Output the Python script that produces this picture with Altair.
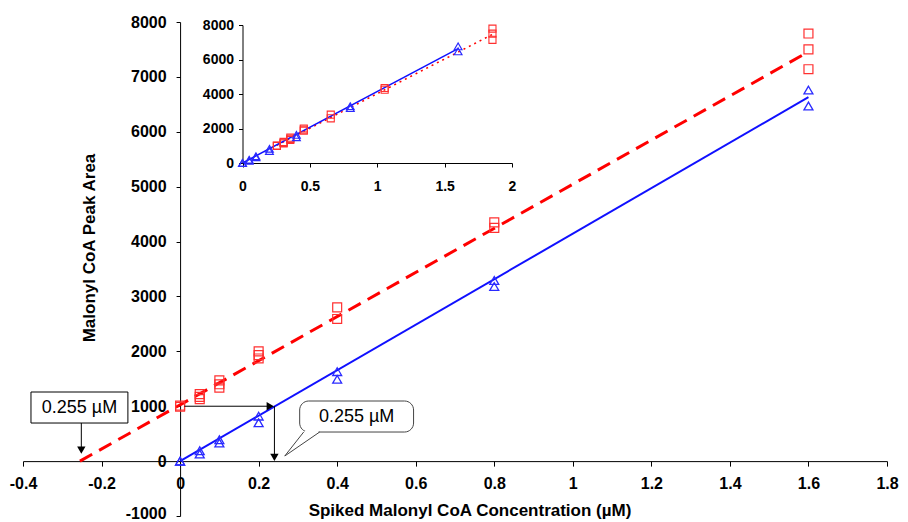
import altair as alt
import pandas as pd

# ---------------- values ----------------
spiked_conc_red = [0, 0, 0.05, 0.05, 0.05, 0.1, 0.1, 0.1, 0.2, 0.2, 0.2, 0.4, 0.4, 0.8, 0.8, 1.6, 1.6, 1.6]
peak_area_red = [990, 1010, 1130, 1170, 1220, 1340, 1400, 1470, 1870, 1930, 2000, 2590, 2800, 4250, 4350, 7140, 7500, 7790]

spiked_conc_blue = [0, 0, 0.05, 0.05, 0.1, 0.1, 0.2, 0.2, 0.4, 0.4, 0.8, 0.8, 1.6, 1.6]
peak_area_blue = [0, 0, 130, 190, 330, 390, 700, 820, 1490, 1630, 3180, 3290, 6470, 6760]

red_fit_conc = [-0.255, 1.6]
red_fit_area = [0, 7457]
blue_fit_conc = [0, 1.6]
blue_fit_area = [0, 6630]

inset_conc_red = [0.255, 0.255, 0.305, 0.305, 0.305, 0.355, 0.355, 0.355, 0.455, 0.455, 0.455,
                  0.655, 0.655, 1.055, 1.055, 1.855, 1.855, 1.855]
inset_area_red = [990, 1010, 1130, 1170, 1220, 1340, 1400, 1470, 1870, 1930, 2000, 2590, 2800, 4250, 4350, 7140, 7500, 7790]
inset_conc_blue = [0, 0, 0.05, 0.05, 0.1, 0.1, 0.2, 0.2, 0.4, 0.4, 0.8, 0.8, 1.6, 1.6]
inset_area_blue = [0, 0, 130, 190, 330, 390, 700, 820, 1490, 1630, 3180, 3290, 6470, 6760]
inset_red_fit_conc = [0.255, 1.855]
inset_red_fit_area = [1025, 7457]
inset_blue_fit_conc = [0, 1.6]
inset_blue_fit_area = [0, 6630]

main_x_ticks = [-0.4, -0.2, 0, 0.2, 0.4, 0.6, 0.8, 1, 1.2, 1.4, 1.6, 1.8]
main_y_ticks = [-1000, 0, 1000, 2000, 3000, 4000, 5000, 6000, 7000, 8000]
inset_x_ticks = [0, 0.5, 1, 1.5, 2]
inset_y_ticks = [0, 2000, 4000, 6000, 8000]

callout_label = "0.255 \u00b5M"
x_title = "Spiked Malonyl CoA Concentration (\u00b5M)"
y_title = "Malonyl CoA Peak Area"

# ---------------- layout / style ----------------
PL, PT, PR, PB = 15, 14, 13, 8
W, H = 864, 494
XD = [-0.4, 1.8]
YD = [-1000, 8000]
FONT = "Liberation Sans, Arial, sans-serif"
X_OFF = -H * (0 - YD[0]) / (YD[1] - YD[0])
Y_OFF = -W * (0 - XD[0]) / (XD[1] - XD[0])
INSET_XR = [242.5 - 8 - PL, 512 - 8 - PL]
INSET_YR = [163 - 8 - PT, 25 - 8 - PT]

RED_LINE = "#ff0000"
RED_PT = "#ff3030"
BLUE_LINE = "#1010ff"
BLUE_PT = "#2a2aff"

common_axis = dict(grid=False, domainColor="black", tickColor="black", labelColor="black",
                   labelFont=FONT, labelFontWeight="bold", labelFlush=False, labelOverlap=False,
                   labelExpr="'' + datum.value", titleFont=FONT, titleFontWeight="bold",
                   titleColor="black")

main_x_axis = alt.Axis(orient="bottom", offset=X_OFF, values=main_x_ticks, tickSize=5,
                       labelPadding=9, labelFontSize=16, title=x_title, titleFontSize=17,
                       titleX=469.5 - 8 - PL, titleY=49, titleBaseline="middle", **common_axis)
main_y_axis = alt.Axis(orient="left", offset=Y_OFF, values=main_y_ticks, tickSize=4,
                       labelPadding=10, labelFontSize=16,
                       labelOffset={"condition": {"test": "datum.value == -1000", "value": -3}, "value": 0},
                       title=y_title, titleFontSize=17,
                       titleX=89.5 - 8 - PL + Y_OFF, titleY=247.5 - 8 - PT, titleAngle=270,
                       titleBaseline="middle", **common_axis)
inset_x_axis = alt.Axis(orient="bottom", offset=-(H - INSET_YR[0]), values=inset_x_ticks,
                        tickSize=4, labelPadding=12, labelFontSize=14, title=None, **common_axis)
inset_y_axis = alt.Axis(orient="left", offset=-INSET_XR[0], values=inset_y_ticks,
                        tickSize=4, labelPadding=5, labelFontSize=14, title=None, **common_axis)


def mx(f="x"):
    return alt.X(f"{f}:Q", scale=alt.Scale(domain=XD, nice=False, zero=False), axis=main_x_axis)


def my(f="y"):
    return alt.Y(f"{f}:Q", scale=alt.Scale(domain=YD, nice=False, zero=False), axis=main_y_axis)


def ix(f="x"):
    return alt.X(f"{f}:Q", scale=alt.Scale(domain=[0, 2], range=INSET_XR, nice=False, zero=False),
                 axis=inset_x_axis)


def iy(f="y"):
    return alt.Y(f"{f}:Q", scale=alt.Scale(domain=[0, 8000], range=INSET_YR, nice=False, zero=False),
                 axis=inset_y_axis)


# ---------------- tables ----------------
red_pts = pd.DataFrame({"x": spiked_conc_red, "y": peak_area_red})
blue_pts = pd.DataFrame({"x": spiked_conc_blue, "y": peak_area_blue})
red_fit = pd.DataFrame({"x": red_fit_conc, "y": red_fit_area})
blue_fit = pd.DataFrame({"x": blue_fit_conc, "y": blue_fit_area})

i_red_pts = pd.DataFrame({"x": inset_conc_red, "y": inset_area_red})
i_blue_pts = pd.DataFrame({"x": inset_conc_blue, "y": inset_area_blue})
i_red_fit = pd.DataFrame({"x": inset_red_fit_conc, "y": inset_red_fit_area})
i_blue_fit = pd.DataFrame({"x": inset_blue_fit_conc, "y": inset_blue_fit_area})

# annotation geometry (data units of the main chart)
box_df = pd.DataFrame({"x": [-0.3797], "x2": [-0.1329], "y": [694], "y2": [1259]})
box_text = pd.DataFrame({"x": [-0.2563], "y": [976], "label": [callout_label]})
bubble_df = pd.DataFrame({"x": [0.3045], "x2": [0.5945], "y": [530], "y2": [1095]})
bubble_text = pd.DataFrame({"x": [0.4495], "y": [812], "label": [callout_label]})
tail_df = pd.DataFrame({"x": [0.3147, 0.3554], "y": [530, 530], "x2": [0.2665, 0.2665], "y2": [93, 93]})
tail_gap = pd.DataFrame({"x": [0.3175], "x2": [0.3525], "y": [530], "y2": [530]})

arrow_lines = pd.DataFrame({
    "x": [-0.2515, 0.011, 0.2402],
    "x2": [-0.2515, 0.232, 0.2402],
    "y": [694, 1000, 1000],
    "y2": [200, 1000, 80],
})
head_down = pd.DataFrame({"x": [-0.2515, 0.2402], "y": [202, 66]})
head_right = pd.DataFrame({"x": [0.2295], "y": [1000]})

# ---------------- main layers ----------------
red_line = alt.Chart(red_fit).mark_line(color=RED_LINE, strokeWidth=3, strokeDash=[14, 8]).encode(
    x=mx(), y=my())
blue_line = alt.Chart(blue_fit).mark_line(color=BLUE_LINE, strokeWidth=2).encode(x=mx(), y=my())
red_sq = alt.Chart(red_pts).mark_point(shape="square", filled=False, color=RED_PT, size=80,
                                       strokeWidth=1.2, opacity=1).encode(x=mx(), y=my())
blue_tri = alt.Chart(blue_pts).mark_point(shape="triangle-up", filled=False, color=BLUE_PT, size=80,
                                          strokeWidth=1.3, opacity=1).encode(x=mx(), y=my())

box = alt.Chart(box_df).mark_rect(fill="white", stroke="black", strokeWidth=1).encode(
    x=mx(), x2="x2", y=my(), y2="y2")
box_t = alt.Chart(box_text).mark_text(font=FONT, fontSize=18, color="black").encode(
    x=mx(), y=my(), text="label")
bubble = alt.Chart(bubble_df).mark_rect(fill="white", stroke="#444444", strokeWidth=1,
                                        cornerRadius=9).encode(x=mx(), x2="x2", y=my(), y2="y2")
gap = alt.Chart(tail_gap).mark_rule(color="white", strokeWidth=2.5).encode(
    x=mx(), x2="x2", y=my(), y2="y2")
tail = alt.Chart(tail_df).mark_rule(color="#444444", strokeWidth=1).encode(
    x=mx(), x2="x2", y=my(), y2="y2")
bubble_t = alt.Chart(bubble_text).mark_text(font=FONT, fontSize=18, color="black").encode(
    x=mx(), y=my(), text="label")

arrows = alt.Chart(arrow_lines).mark_rule(color="black", strokeWidth=1).encode(
    x=mx(), x2="x2", y=my(), y2="y2")
hd = alt.Chart(head_down).mark_point(shape="triangle-down", filled=True, color="black", size=70,
                                     opacity=1).encode(x=mx(), y=my())
hr = alt.Chart(head_right).mark_point(shape="triangle-right", filled=True, color="black", size=70,
                                      opacity=1).encode(x=mx(), y=my())

main = alt.layer(red_line, blue_line, red_sq, blue_tri, box, box_t, arrows, hd, hr,
                 bubble, gap, tail, bubble_t)

# ---------------- inset layers ----------------
i_red_line = alt.Chart(i_red_fit).mark_line(color=RED_LINE, strokeWidth=1.5, strokeDash=[2, 4]).encode(
    x=ix(), y=iy())
i_blue_line = alt.Chart(i_blue_fit).mark_line(color=BLUE_LINE, strokeWidth=1.5).encode(x=ix(), y=iy())
i_red_sq = alt.Chart(i_red_pts).mark_point(shape="square", filled=False, color=RED_PT, size=50,
                                           strokeWidth=1.1, opacity=1).encode(x=ix(), y=iy())
i_blue_tri = alt.Chart(i_blue_pts).mark_point(shape="triangle-up", filled=False, color=BLUE_PT, size=60,
                                              strokeWidth=1.2, opacity=1).encode(x=ix(), y=iy())

inset = alt.layer(i_red_line, i_blue_line, i_red_sq, i_blue_tri)

chart = (
    alt.layer(main, inset)
    .resolve_scale(x="independent", y="independent")
    .properties(width=W, height=H, autosize="none",
                padding={"left": PL, "top": PT, "right": PR, "bottom": PB},
                background="white")
    .configure_view(stroke=None)
)

chart.save("out.html", embed_options={"renderer": "svg", "actions": False})
